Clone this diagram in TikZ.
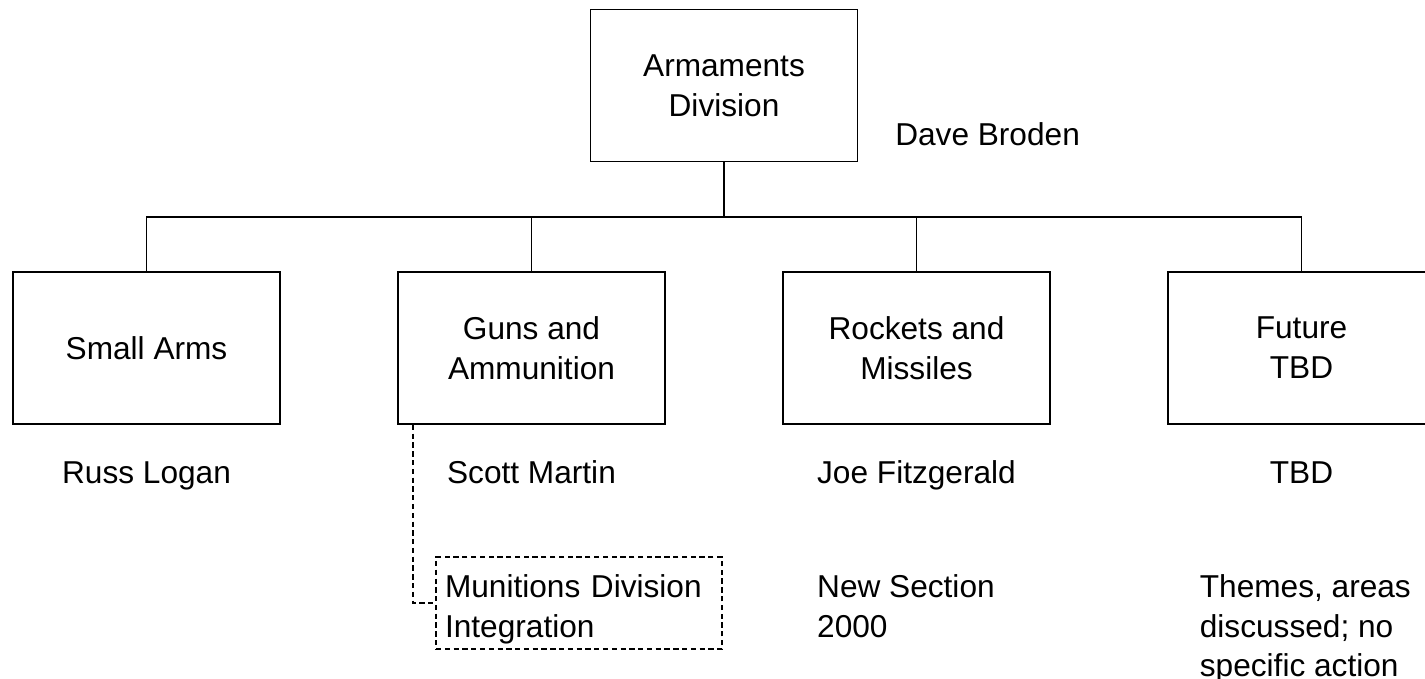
\documentclass[tikz,border=0pt]{standalone}
\usepackage{fontspec}
\setmainfont{Liberation Sans}
\usetikzlibrary{positioning}
\begin{document}
\begin{tikzpicture}[
        font=\fontsize{18}{22.7}\selectfont,
        line width=1pt,
        level 1/.style = {level distance=5.25cm, sibling distance=7.7cm}, % boxes of the sections
        edge from parent/.style = {draw, line width=1pt},
        edge from parent path = {(\tikzparentnode.south) -- +(0,-1.09cm) -| (\tikzchildnode.north)},
        unit/.style={draw, minimum width=5.34cm, minimum height=3.04cm, align=center}, % the boxes
        chief/.style={inner sep=0pt}, % names of the heads
        note/.style={inner sep=0pt, align=left},
        planned/.style={draw, dashed, dash pattern=on 3pt off 2pt, line width=0.9pt, inner ysep=0pt,
                inner xsep=0.18cm, text width=5.36cm, minimum height=1.84cm, align=left},
    ]
    \useasboundingbox (0,0) rectangle (28.5,-13.56);

    \node[unit] (arms) at (14.48,-1.71) {Armaments\\Division}
    child {node[unit] (small) {Small Arms}}
    child {node[unit] (guns) {Guns and\\Ammunition}}
    child {node[unit] (rockets) {Rockets and\\Missiles}}
    child {node[unit] (future) {Future\\TBD}};

    % heads
    \node[chief, anchor=base west] (broden) at ([xshift=0.72cm, yshift=-1.19cm]arms.east) {Dave Broden};
    \node[chief, below=1.18cm of small, anchor=base] (logan) {Russ Logan};
    \node[chief, below=1.18cm of guns, anchor=base] (martin) {Scott Martin};
    \node[chief, below=1.18cm of rockets, anchor=base] (fitz) {Joe Fitzgerald};
    \node[chief, below=1.18cm of future, anchor=base] (tbd) {TBD};

    % remarks
    \node[planned, below=1.45cm of martin.base west, anchor=north west, xshift=-0.22cm] (munitions)
        {\rule{0pt}{0.7cm}Munitions Division\\Integration};
    \node[note, below=1.79cm of fitz.base west, anchor=north west] (newsec) {New Section\\2000};
    \node[note, below=1.79cm of tbd.base west, anchor=north west, xshift=-1.4cm] (themes) {Themes, areas\\discussed; no\\specific action};

    \draw[dashed, dash pattern=on 3pt off 2pt, line width=0.9pt] ([xshift=0.32cm]guns.south west) |- (munitions.west);
\end{tikzpicture}
\end{document}
